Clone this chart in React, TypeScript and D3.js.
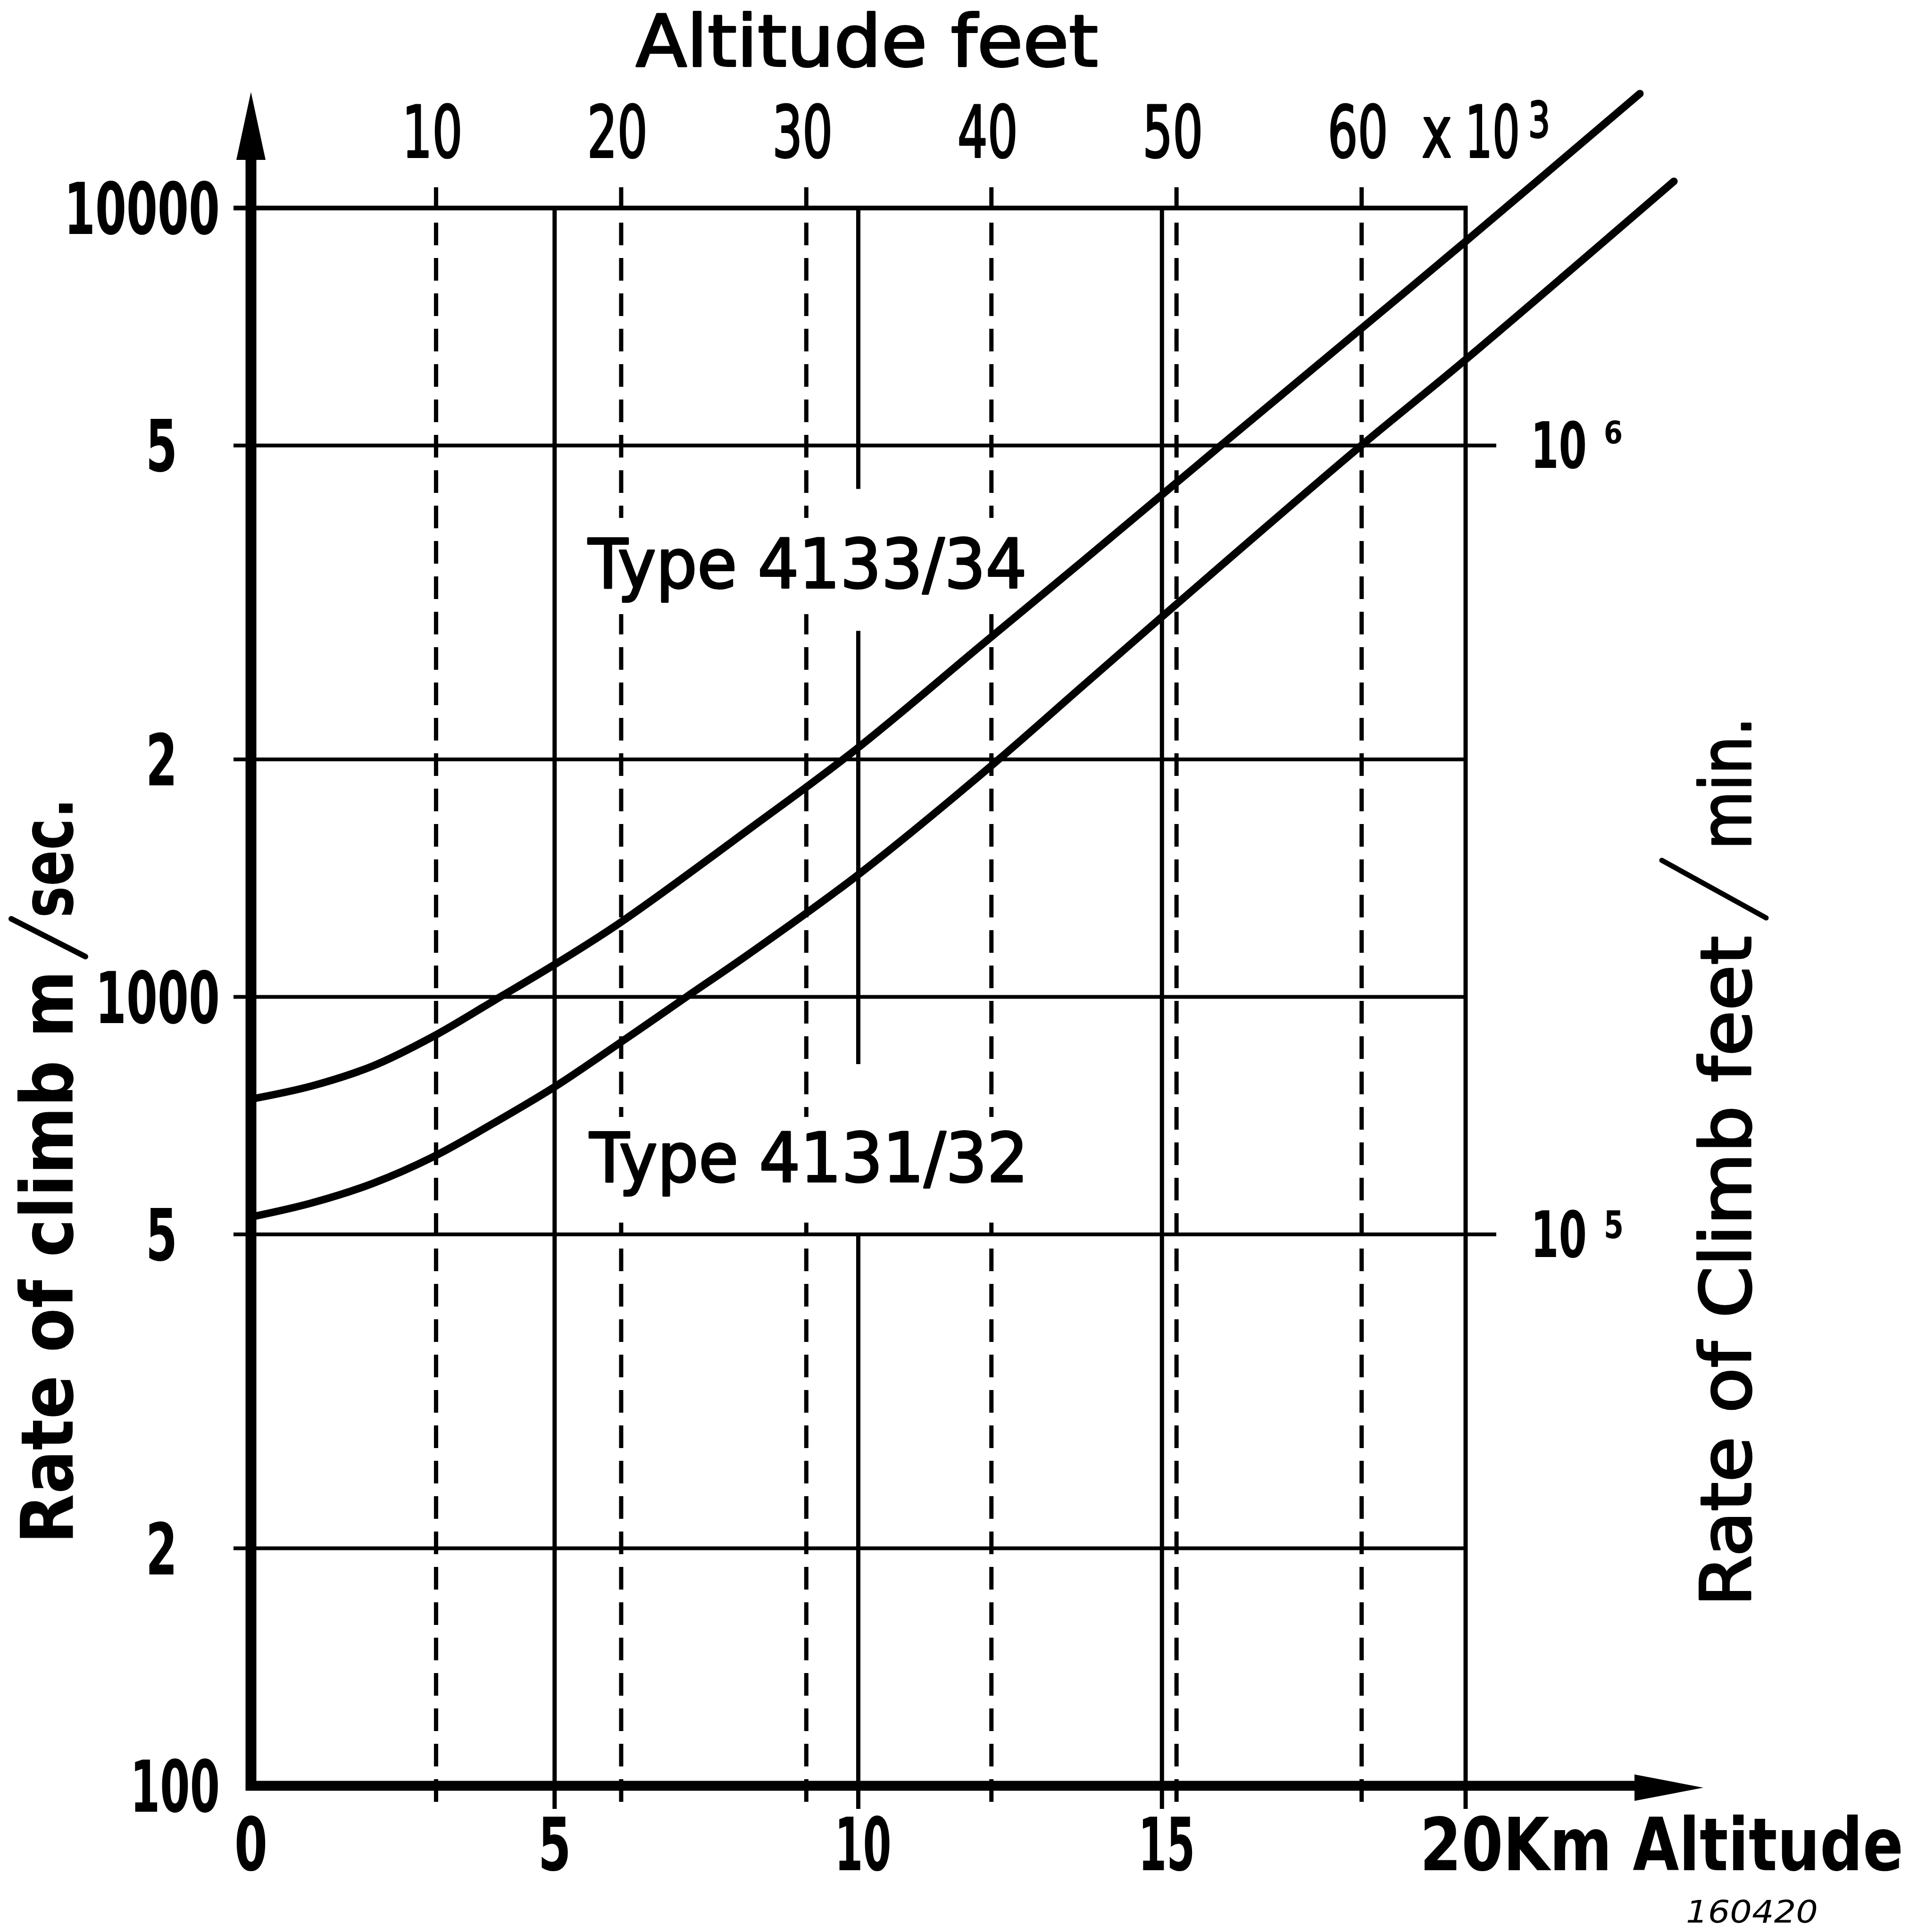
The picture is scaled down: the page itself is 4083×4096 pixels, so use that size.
import React from "react";
import * as d3 from "d3";

// Rate of climb (m/s) against altitude (km)
const upperKm = [0, 1, 2, 3, 4, 5, 6.08, 8.21, 9.95, 12.07, 13.7, 15.97, 18.17, 19.96, 22.87];
const upperRate = [742, 771, 817, 891, 989, 1099, 1242, 1633, 2056, 2810, 3570, 5000, 6918, 9016, 13964];
const lowerKm = [0, 1, 2, 3, 4, 5, 6.08, 7.17, 8.21, 9.95, 12.07, 13.7, 14.93, 18.17, 19.96, 23.43];
const lowerRate = [526, 548, 580, 627, 692, 769, 875, 1000, 1135, 1419, 1928, 2480, 3000, 4917, 6387, 10810];

const kmTicks = [0, 5, 10, 15];
const feetTicks = [10, 20, 30, 40, 50, 60]; // x 10^3 ft
const rateTicks = [10000, 5000, 2000, 1000, 500, 200];
const rateLabels = ["10000", "5", "2", "1000", "5", "2"];
const rightRates = [5000, 500];
const rightExp = ["6", "5"];
const seriesNames = ["Type 4133/34", "Type 4131/32"];

const W = 4083;
const H = 4096;
const FONT = "DejaVu Sans";

const x = d3.scaleLinear().domain([0, 20]).range([532, 3107]);
const ft = d3.scaleLinear().domain([0, 65.617]).range([532, 3107]);
const y = d3.scaleLog().domain([100, 10000]).range([3786, 441]);

const line = d3
  .line<[number, number]>()
  .x((d) => x(d[0]))
  .y((d) => y(d[1]))
  .curve(d3.curveCatmullRom.alpha(0.5));

let ctx: CanvasRenderingContext2D | null = null;
function measure(text: string, size: number, bold: boolean, italic: boolean) {
  if (!ctx) ctx = document.createElement("canvas").getContext("2d");
  if (!ctx) return text.length * size * 0.6;
  ctx.font = `${italic ? "italic " : ""}${bold ? "bold " : ""}${size}px "${FONT}"`;
  return ctx.measureText(text).width;
}

// the drawing uses a narrow lettering, so each label is squeezed to its measured width
// weight: "bold" | "medium" (book face with a thin outline) | "normal"
function Label({ x, y, w, size, weight = "normal", italic = false, rot = false, children }: any) {
  const text = String(children);
  const bold = weight === "bold";
  const medium = weight === "medium";
  const sx = w / measure(text, size, bold, italic);
  return (
    <text
      transform={`translate(${x},${y})${rot ? " rotate(-90)" : ""} scale(${sx},1)`}
      fontSize={size}
      fontWeight={bold ? "bold" : "normal"}
      fontStyle={italic ? "italic" : "normal"}
      fill="#000"
      stroke={medium ? "#000" : "none"}
      strokeWidth={medium ? 4 : 0}
      strokeLinejoin="round"
    >
      {text}
    </text>
  );
}

export default function App() {
  const upper = line(upperKm.map((k, i) => [k, upperRate[i]]));
  const lower = line(lowerKm.map((k, i) => [k, lowerRate[i]]));
  // 10 km line is interrupted where the series labels sit
  const tenKmSegments = [
    [10000, 4405],
    [2911, 822],
    [500, 100],
  ];

  return (
    <svg
      width={W}
      height={H}
      style={{ position: "absolute", left: 0, top: 0, background: "#fff" }}
      fontFamily={FONT}
    >
      <rect width={W} height={H} fill="#fff" />

      {/* horizontal grid */}
      {rateTicks.map((v) => (
        <line
          key={v}
          x1={495}
          x2={rightRates.includes(v) ? 3172 : x(20)}
          y1={y(v)}
          y2={y(v)}
          stroke="#000"
          strokeWidth={v === 10000 ? 10 : 8}
        />
      ))}

      {/* dashed feet lines */}
      {feetTicks.map((f) => (
        <line
          key={f}
          x1={ft(f)}
          x2={ft(f)}
          y1={397}
          y2={3837}
          stroke="#000"
          strokeWidth={9}
          strokeDasharray="48 27"
        />
      ))}

      {/* solid km lines */}
      {[5, 15, 20].map((k) => (
        <line key={k} x1={x(k)} x2={x(k)} y1={y(10000) - 5} y2={3835} stroke="#000" strokeWidth={9} />
      ))}
      {tenKmSegments.map(([a, b], i) => (
        <line
          key={i}
          x1={x(10)}
          x2={x(10)}
          y1={y(a)}
          y2={b === 100 ? 3835 : y(b)}
          stroke="#000"
          strokeWidth={9}
        />
      ))}

      {/* gaps in the dashed lines behind the series labels */}
      <rect x={1240} y={1098} width={950} height={204} fill="#fff" />
      <rect x={1240} y={2368} width={950} height={224} fill="#fff" />

      {/* curves */}
      <path d={upper || ""} fill="none" stroke="#000" strokeWidth={16} strokeLinecap="round" />
      <path d={lower || ""} fill="none" stroke="#000" strokeWidth={16} strokeLinecap="round" />

      {/* axes */}
      <line x1={x(0)} x2={x(0)} y1={3796} y2={335} stroke="#000" strokeWidth={23} />
      <polygon points={`${x(0)},195 ${x(0) - 31},339 ${x(0) + 31},339`} fill="#000" />
      <line x1={521} x2={3470} y1={y(100)} y2={y(100)} stroke="#000" strokeWidth={21} />
      <polygon
        points={`3611,${y(100) + 4} 3465,${y(100) - 24} 3465,${y(100) + 32}`}
        fill="#000"
      />

      {/* left tick labels */}
      {rateTicks.map((v, i) => {
        const t = rateLabels[i];
        const w = t.length > 1 ? t.length * 66 : 67;
        const right = t.length > 1 ? 466 : 376;
        return (
          <Label key={v} x={right - w} y={y(v) + 55} w={w} size={151} weight="bold">
            {t}
          </Label>
        );
      })}
      <Label x={466 - 190} y={y(100) + 55} w={190} size={151} weight="bold">
        100
      </Label>

      {/* bottom tick labels */}
      {kmTicks.map((k) => {
        const t = String(k);
        const w = t.length > 1 ? 120 : 70;
        return (
          <Label key={k} x={x(k) - w / 2 + (k >= 10 ? 10 : 0)} y={3965} w={w} size={156} weight="bold">
            {t}
          </Label>
        );
      })}
      <Label x={3010} y={3965} w={1025} size={156} weight="bold">
        20Km Altitude
      </Label>

      {/* top feet axis */}
      <Label x={1348} y={140} w={980} size={151} weight="medium">
        Altitude feet
      </Label>
      {feetTicks.map((f) => (
        <Label key={f} x={ft(f) - 8 - 64} y={333} w={128} size={151} weight="medium">
          {String(f)}
        </Label>
      ))}
      <Label x={3014} y={333} w={64} size={151} weight="medium">
        x
      </Label>
      <Label x={3106} y={333} w={116} size={151} weight="medium">
        10
      </Label>
      <Label x={3240} y={291} w={46} size={104} weight="medium">
        3
      </Label>

      {/* right scale labels */}
      {rightRates.map((v, i) => (
        <g key={v}>
          <Label x={3245} y={y(v) + 48} w={119} size={136} weight="bold">
            10
          </Label>
          <Label
            x={3400}
            y={y(v) - 52 + (i === 0 ? 48 : 60)}
            w={i === 0 ? 40 : 42}
            size={i === 0 ? 66 : 80}
            weight="bold"
          >
            {rightExp[i]}
          </Label>
        </g>
      ))}

      {/* series labels */}
      <Label x={1247} y={1246} w={930} size={145} weight="medium">
        {seriesNames[0]}
      </Label>
      <Label x={1250} y={2505} w={930} size={145} weight="medium">
        {seriesNames[1]}
      </Label>

      {/* left axis title */}
      <Label x={154} y={3273} w={1216} size={154} weight="bold" rot>
        Rate of climb m
      </Label>
      <line x1={181} y1={2028} x2={24} y2={1948} stroke="#000" strokeWidth={12} strokeLinecap="round" />
      <Label x={154} y={1946} w={254} size={154} weight="bold" rot>
        sec.
      </Label>

      {/* right axis title */}
      <Label x={3711} y={3406} w={1422} size={148} weight="medium" rot>
        Rate of Climb feet
      </Label>
      <line x1={3744} y1={1946} x2={3523} y2={1824} stroke="#000" strokeWidth={11} strokeLinecap="round" />
      <Label x={3711} y={1801} w={281} size={148} weight="medium" rot>
        min.
      </Label>

      <Label x={3574} y={4076} w={280} size={66} italic>
        160420
      </Label>
    </svg>
  );
}
